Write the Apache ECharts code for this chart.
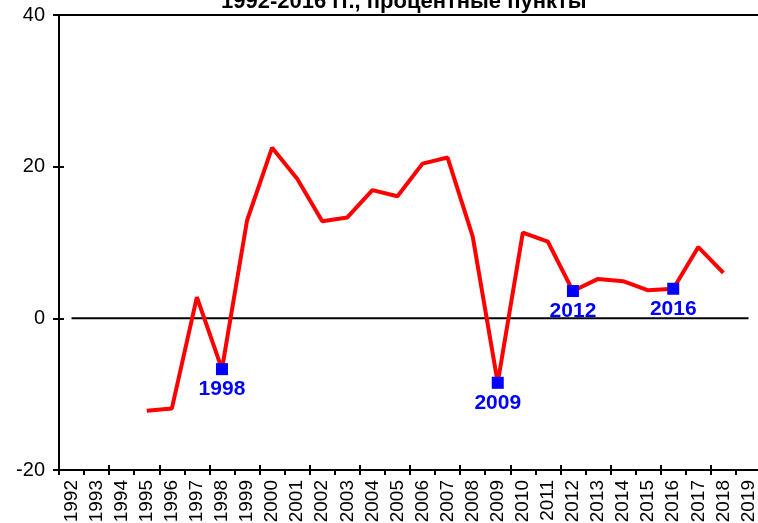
<!DOCTYPE html>
<html>
<head>
<meta charset="utf-8">
<script src="https://cdn.jsdelivr.net/npm/echarts@6/dist/echarts.min.js"></script>
<style>
  html, body { margin: 0; padding: 0; background: #fff; }
</style>
</head>
<body>
<div id="myChart" style="width:758px;height:523px"></div>
<script>
// categories 1992..2019
var years = ['1992', '1993', '1994', '1995', '1996', '1997', '1998', '1999', '2000', '2001',
  '2002', '2003', '2004', '2005', '2006', '2007', '2008', '2009', '2010', '2011',
  '2012', '2013', '2014', '2015', '2016', '2017', '2018', '2019'];
// percentage points (no data before 1995 and for 2019)
var gapValues = [null, null, null, -12.2, -11.9, 2.8, -6.7, 12.9, 22.5, 18.4,
  12.8, 13.3, 16.9, 16.1, 20.4, 21.2, 10.8, -8.5, 11.3, 10.1,
  3.6, 5.2, 4.9, 3.7, 3.9, 9.4, 6.0, null];
// highlighted years
var markerYears = ['1998', '2009', '2012', '2016'];
var yTicks = { min: -20, max: 40, step: 20 };
var titleText = '1992-2016 гг., процентные пункты';

var chartDom = document.getElementById('myChart');
var myChart = echarts.init(chartDom);
var option;

var zeroLine = years.map(function () { return 0; });
var markerData = years.map(function (y, i) {
  return markerYears.indexOf(y) >= 0 ? gapValues[i] : null;
});

var font = 'Liberation Sans, Arial, sans-serif';

option = {
  animation: false,
  title: {
    text: titleText,
    left: 216,
    top: -14,
    textStyle: { fontFamily: font, fontSize: 22, fontWeight: 'bold', color: '#000' }
  },
  grid: { left: 59, right: -3, top: 15, bottom: 53, outerBoundsMode: 'none', containLabel: false },
  xAxis: [
    {
      type: 'category',
      data: years,
      position: 'bottom',
      boundaryGap: true,
      axisLine: { onZero: false, lineStyle: { color: '#000', width: 2 } },
      axisTick: { show: true, length: 5, lineStyle: { color: '#000', width: 2 } },
      axisLabel: { rotate: 90, fontSize: 19, color: '#000', fontFamily: font, margin: 10 },
      splitLine: { show: false }
    },
    {
      type: 'category',
      data: years,
      position: 'bottom',
      boundaryGap: true,
      axisLine: { show: false, onZero: false },
      axisTick: { show: true, inside: true, length: 5, lineStyle: { color: '#000', width: 2 } },
      axisLabel: { show: false },
      splitLine: { show: false }
    },
    {
      type: 'category',
      data: years,
      position: 'top',
      axisLine: { onZero: false, lineStyle: { color: '#000', width: 2 } },
      axisTick: { show: false },
      axisLabel: { show: false },
      splitLine: { show: false }
    }
  ],
  yAxis: [
    {
      type: 'value',
      min: yTicks.min,
      max: yTicks.max,
      interval: yTicks.step,
      axisLine: { show: true, onZero: false, lineStyle: { color: '#000', width: 2 } },
      axisTick: { show: true, length: 6, lineStyle: { color: '#000', width: 2 } },
      axisLabel: { fontSize: 20, color: '#000', fontFamily: font, margin: 14 },
      splitLine: { show: false }
    },
    {
      type: 'value',
      position: 'left',
      min: yTicks.min,
      max: yTicks.max,
      interval: yTicks.step,
      axisLine: { show: false },
      axisTick: { show: true, inside: true, length: 5, lineStyle: { color: '#000', width: 2 } },
      axisLabel: { show: false },
      splitLine: { show: false }
    }
  ],
  series: [
    {
      name: 'zero',
      type: 'line',
      data: zeroLine,
      symbol: 'none',
      silent: true,
      lineStyle: { color: '#000', width: 2 },
      z: 1
    },
    {
      name: 'gap',
      type: 'line',
      data: gapValues,
      symbol: 'none',
      connectNulls: false,
      lineStyle: { color: '#ff0000', width: 4 },
      z: 2
    },
    {
      name: 'marks',
      type: 'scatter',
      data: markerData,
      symbol: 'rect',
      symbolSize: 12,
      itemStyle: { color: '#0000ff', opacity: 1 },
      label: {
        show: true,
        position: 'bottom',
        distance: 4,
        formatter: function (p) { return p.name; },
        color: '#0000ff',
        fontSize: 21,
        fontWeight: 'bold',
        fontFamily: font
      },
      z: 3
    }
  ]
};

option && myChart.setOption(option);
</script>
</body>
</html>
